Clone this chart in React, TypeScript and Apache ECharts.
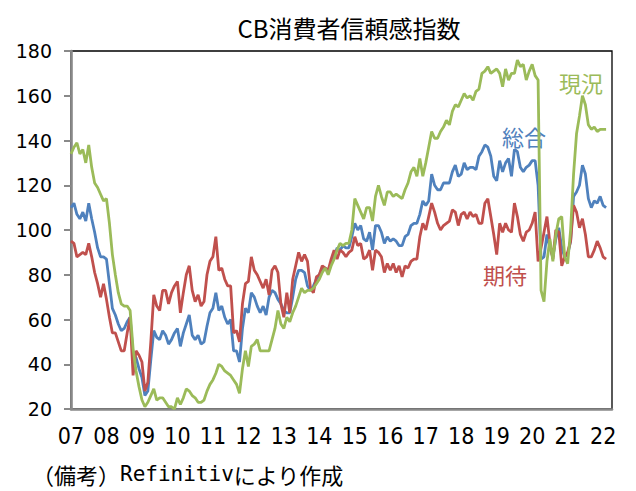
import React, { useEffect, useRef } from "react";
import * as echarts from "echarts";

// 2007/01 – 2022/02, monthly
const startYear = 2007;
const slotCount = 184; // axis slots through 2022/04 (data ends 2022/02)

// 現況 (present situation)
const genkyo = [
  134, 137, 139, 134, 136, 130, 138, 128, 121, 119, 116, 113,
  114, 103, 89, 80, 72, 67, 66, 66, 64, 47, 37, 30,
  24, 21, 23, 26, 29, 24, 25, 25, 23, 21, 21, 20,
  25, 22, 25, 29, 28, 26, 25, 23, 23, 24, 28, 31,
  33, 36, 40, 39, 37, 36, 35, 33, 31, 27, 38, 46,
  39, 48, 49, 51, 46, 46, 46, 46, 51, 56, 64, 58,
  56, 61, 59, 63, 66, 70, 74, 72, 73, 73, 74, 76,
  78, 81, 83, 80, 84, 87, 91, 94, 93, 94, 94, 100,
  114, 111, 108, 105, 110, 110, 104, 115, 120, 115, 111, 117,
  117, 115, 116, 115, 114, 118, 121, 126, 128, 124, 132, 124,
  130, 137, 144, 141, 141, 144, 146, 149, 147, 153, 156, 155,
  158, 161, 159, 160, 158, 162, 163, 170, 171, 173, 170, 171,
  172, 170, 164, 172, 167, 170, 170, 176, 173, 174, 167, 171,
  174, 169, 167, 73, 68, 86, 96, 86, 98, 105, 106, 88,
  85, 100, 125, 143, 151, 160, 156, 147, 145, 146, 144, 145,
  145, 145,
];

// 総合 (total)
const sogo = [
  110, 112, 107, 105, 108, 104, 112, 105, 99, 92, 88, 88,
  87, 76, 65, 62, 58, 55, 56, 59, 61, 44, 43, 38,
  34, 26, 28, 42, 55, 52, 51, 55, 53, 49, 51, 54,
  56, 48, 54, 58, 62, 53, 51, 53, 49, 50, 57, 63,
  65, 72, 64, 66, 61, 58, 60, 46, 46, 41, 56, 65,
  63, 72, 70, 66, 63, 66, 62, 70, 73, 72, 69, 67,
  64, 63, 63, 70, 78, 82, 82, 81, 75, 73, 75, 78,
  80, 83, 83, 82, 85, 88, 92, 91, 93, 92, 92, 97,
  103, 100, 102, 96, 95, 99, 91, 102, 102, 99, 94, 97,
  95, 96, 95, 93, 93, 97, 98, 102, 103, 103, 107, 113,
  111, 113, 125, 120, 118, 118, 121, 121, 121, 126, 129, 124,
  125, 130, 127, 128, 128, 127, 133, 135, 138, 137, 133, 124,
  122, 131, 126, 130, 132, 124, 136, 135, 128, 126, 128, 129,
  131, 131, 120, 87, 88, 98, 92, 88, 96, 101, 92, 88,
  89, 95, 115, 117, 120, 129, 125, 114, 110, 113, 112, 115,
  111, 110,
];

// 期待 (expectations)
const kitai = [
  95, 94, 88, 89, 90, 89, 94, 88, 81, 76, 70, 76,
  69, 61, 54, 54, 50, 46, 46, 54, 61, 35, 46, 44,
  41, 28, 32, 50, 71, 66, 64, 73, 73, 67, 72, 75,
  77, 63, 72, 80, 84, 73, 68, 71, 66, 68, 80, 86,
  88, 97, 82, 83, 78, 75, 75, 54, 55, 50, 67, 76,
  77, 88, 82, 80, 77, 74, 78, 71, 82, 84, 81, 67,
  61, 72, 63, 78, 84, 90, 86, 89, 86, 74, 72, 79,
  80, 84, 83, 82, 87, 91, 87, 91, 90, 88, 90, 91,
  97, 93, 94, 87, 88, 91, 82, 91, 90, 88, 81, 85,
  82, 85, 81, 84, 79, 84, 83, 86, 87, 87, 97, 103,
  100, 106, 112, 108, 103, 100, 102, 103, 104, 109, 108, 102,
  107, 108, 105, 108, 106, 107, 103, 103, 112, 114, 106, 98,
  89, 103, 99, 103, 100, 99, 112, 106, 98, 95, 99, 100,
  103, 108, 86, 92, 99, 106, 94, 87, 100, 99, 84, 88,
  90, 95, 111, 108, 101, 105, 98, 88, 88, 91, 95, 92,
  88, 87,
];

const yMin = 20;
const yMax = 180;
const yStep = 20;

const seriesNames = ["総合", "期待", "現況"];
const seriesColors = ["#4F81BD", "#C0504D", "#9BBB59"];

const categories: string[] = [];
for (let i = 0; i < slotCount; i++) {
  const y = startYear + Math.floor(i / 12);
  const m = (i % 12) + 1;
  categories.push(`${y}/${m < 10 ? "0" + m : m}`);
}

export default function App() {
  const ref = useRef<HTMLDivElement>(null);

  useEffect(() => {
    if (!ref.current) return;
    const chart = echarts.init(ref.current, undefined, { renderer: "svg" });
    const dataSets = [sogo, kitai, genkyo];
    const cjk = "'Noto Sans CJK JP', sans-serif";
    chart.setOption({
      animation: false,
      backgroundColor: "#ffffff",
      title: [
        {
          text: "CB消費者信頼感指数",
          left: 349,
          top: 15,
          textAlign: "center",
          padding: 0,
          textStyle: {
            fontFamily: cjk,
            fontSize: 24,
            fontWeight: "normal",
            color: "#000",
          },
        },
        {
          text: "{a|（備考）}{b|Refinitiv}{a|により作成}",
          left: 32,
          top: 463,
          padding: 0,
          textStyle: {
            fontWeight: "normal",
            fontSize: 22,
            rich: {
              a: { fontFamily: cjk, fontSize: 22, fontWeight: "normal", color: "#000" },
              b: {
                fontFamily: "'DejaVu Sans Mono', monospace",
                fontSize: 21,
                fontWeight: "normal",
                color: "#000",
              },
            },
          },
        },
      ],
      grid: {
        left: 71,
        right: 24,
        top: 51,
        bottom: 82,
        show: true,
        borderColor: "#000",
        borderWidth: 1.3,
        backgroundColor: "transparent",
      },
      xAxis: {
        type: "category",
        data: categories,
        boundaryGap: false,
        axisLine: { show: true, lineStyle: { color: "#898989", width: 2.6 } },
        axisTick: { show: false },
        splitLine: { show: false },
        axisLabel: {
          interval: (index: number) => index % 12 === 0,
          formatter: (v: string) => v.slice(2, 4),
          margin: 15,
          fontFamily: "'Liberation Sans Narrow', 'DejaVu Sans Condensed', 'Liberation Sans', sans-serif",
          fontSize: 23,
          color: "#000",
        },
      },
      yAxis: {
        type: "value",
        min: yMin,
        max: yMax,
        interval: yStep,
        axisLine: { show: true, lineStyle: { color: "#898989", width: 2.6 } },
        axisTick: { show: true, length: 7, lineStyle: { color: "#898989", width: 2 } },
        splitLine: { show: false },
        axisLabel: {
          margin: 19,
          fontFamily: "'DejaVu Sans', sans-serif",
          fontSize: 19,
          color: "#000",
        },
      },
      series: dataSets.map((d, k) => ({
        name: seriesNames[k],
        type: "line",
        data: d,
        symbol: "none",
        smooth: false,
        lineStyle: { color: seriesColors[k], width: 2.8 },
        itemStyle: { color: seriesColors[k] },
        z: 3 + k,
      })),
      graphic: [
        {
          type: "text",
          x: 559,
          y: 82,
          style: {
            text: "現況",
            fill: seriesColors[2],
            font: "22px 'Noto Sans CJK JP'",
            textVerticalAlign: "middle",
          },
        },
        {
          type: "text",
          x: 502,
          y: 136,
          style: {
            text: "総合",
            fill: seriesColors[0],
            font: "22px 'Noto Sans CJK JP'",
            textVerticalAlign: "middle",
          },
        },
        {
          type: "text",
          x: 483,
          y: 274,
          style: {
            text: "期待",
            fill: seriesColors[1],
            font: "22px 'Noto Sans CJK JP'",
            textVerticalAlign: "middle",
          },
        },
      ],
    });
    return () => chart.dispose();
  }, []);

  return (
    <div
      ref={ref}
      style={{ position: "absolute", left: 0, top: 0, width: 636, height: 491 }}
    />
  );
}
